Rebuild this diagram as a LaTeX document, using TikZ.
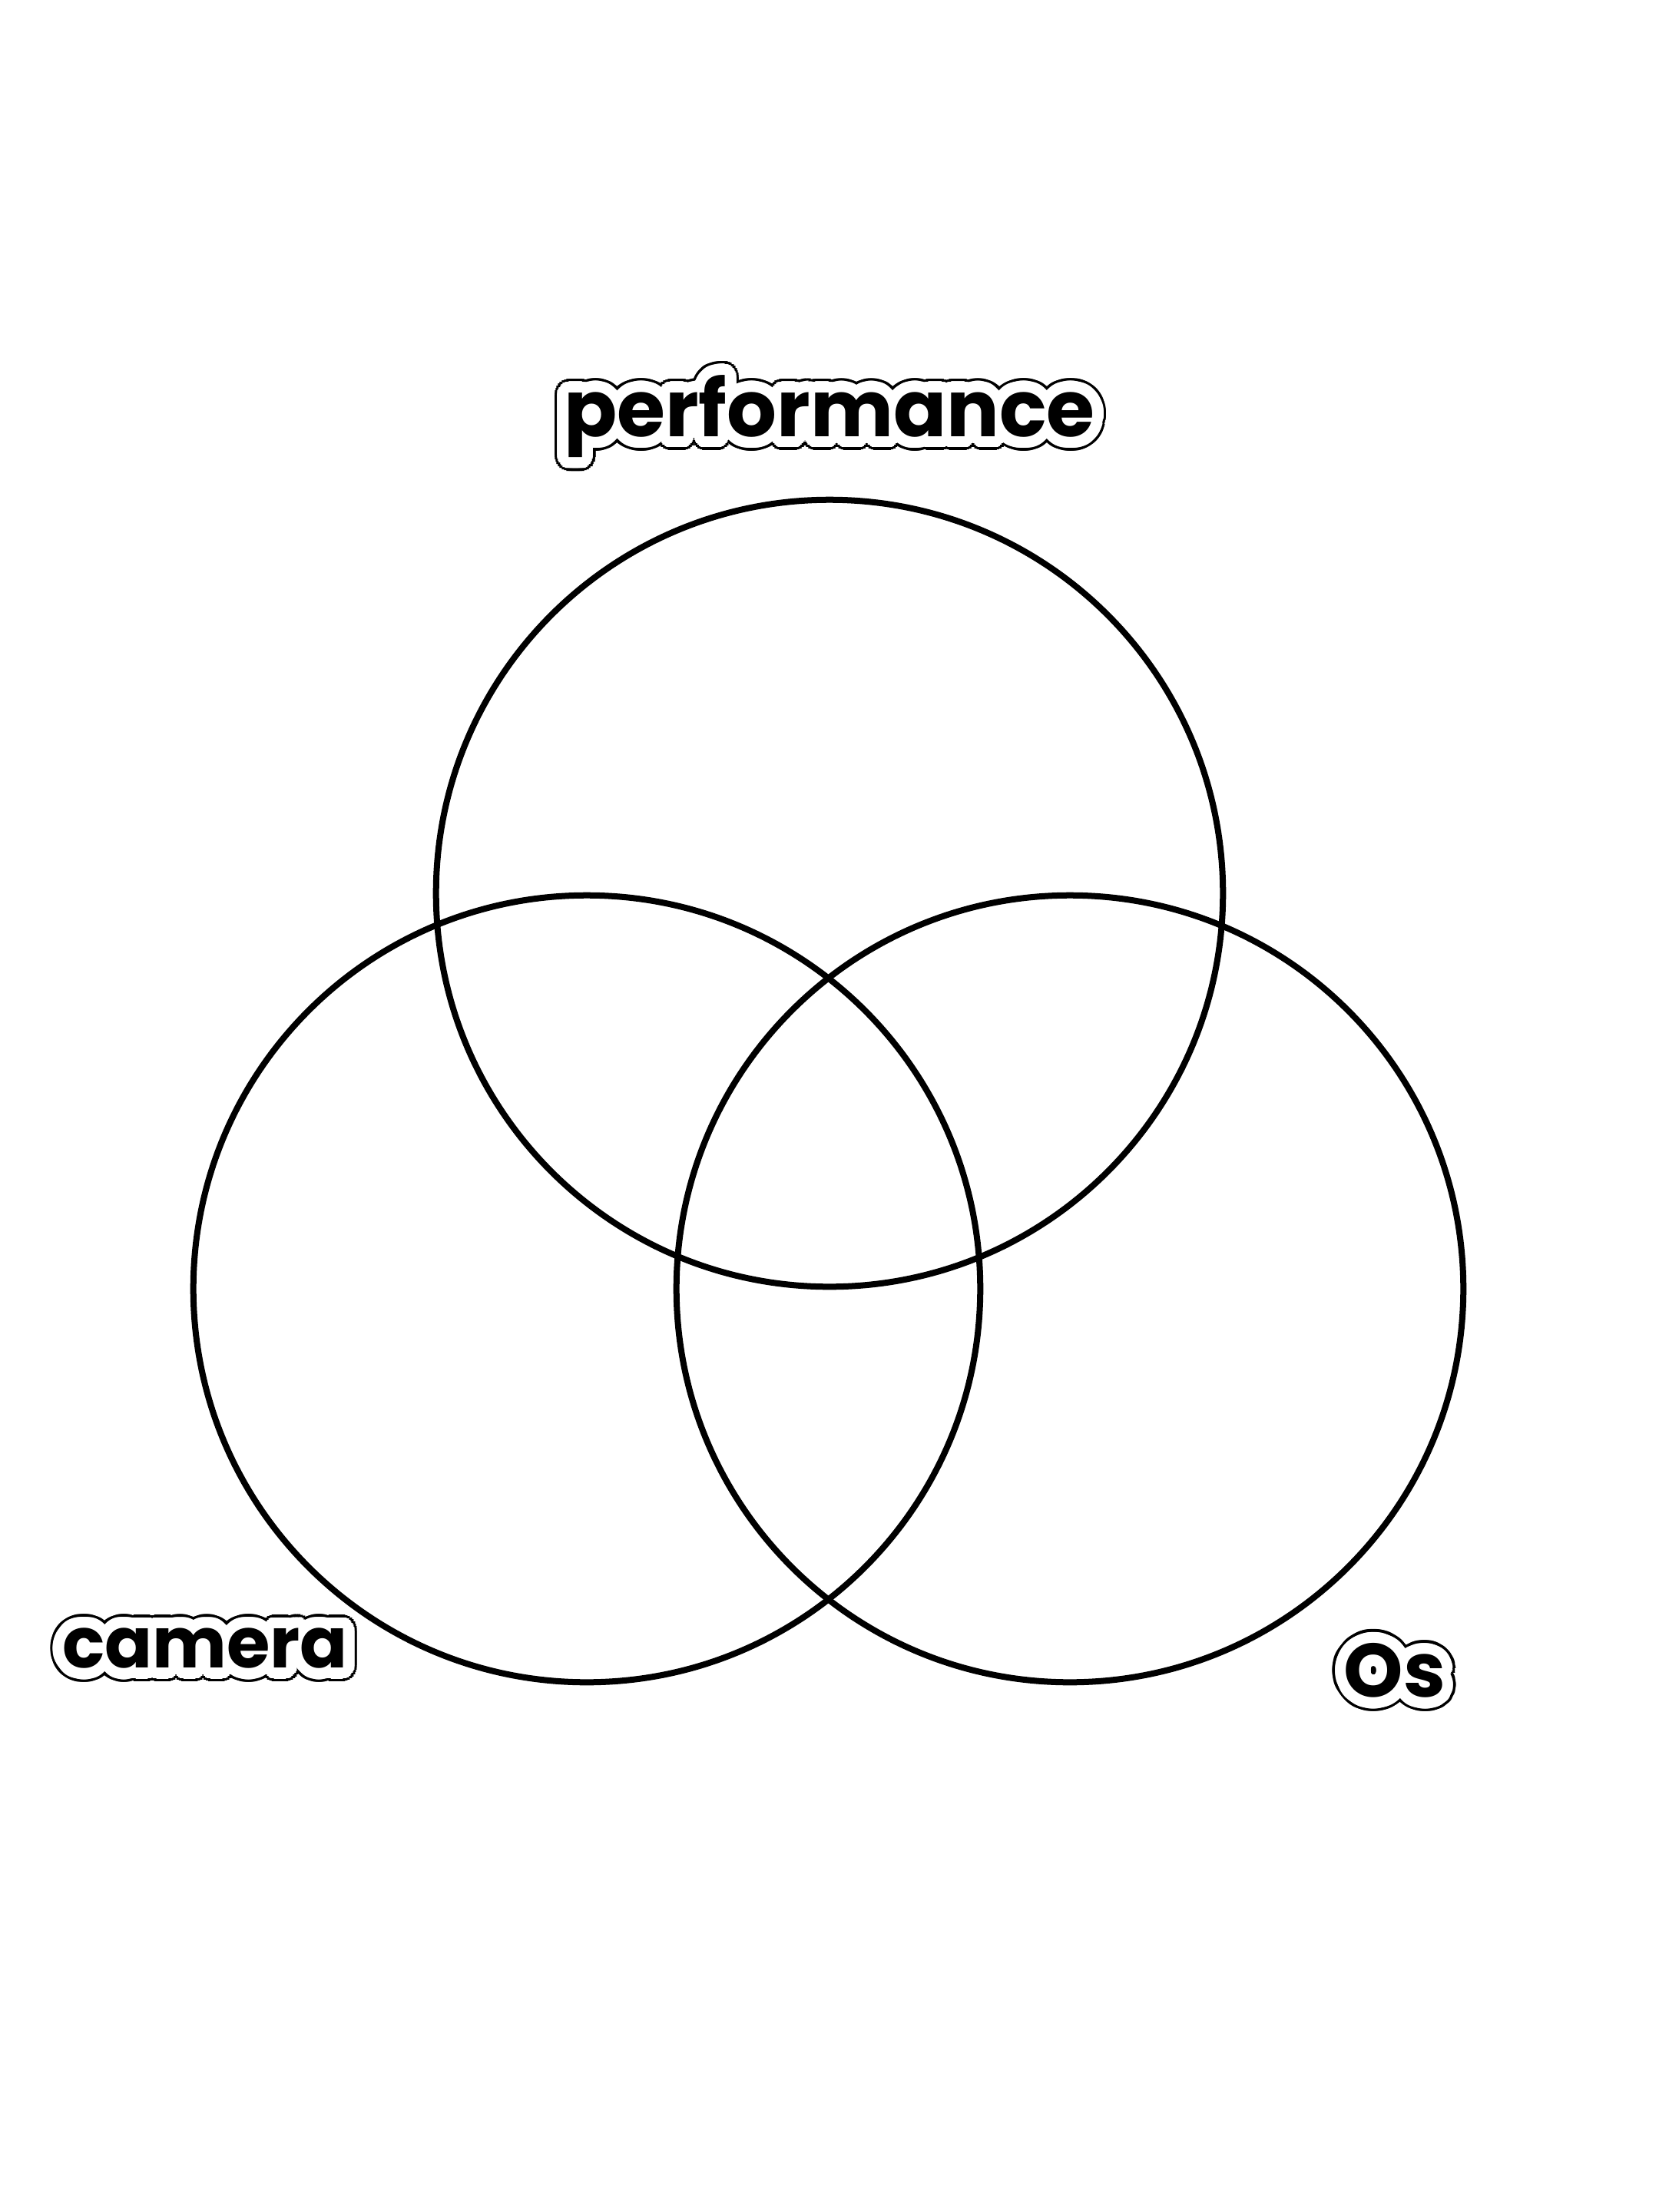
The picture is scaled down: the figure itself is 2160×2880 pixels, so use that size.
\documentclass[tikz,border=0pt]{standalone}
\usepackage{fontspec}
\newfontfamily\lblfont{Poppins}
\usetikzlibrary{calc}
\tikzset{
  ring/.style={draw=black, line width=0.08cm},
  lbltext/.style={font=\lblfont\bfseries, inner sep=0pt, outer sep=0pt},
}
% #1 name, #2 position, #3 font size (pt), #4 text
\newcommand\outlinedlabel[4]{%
  \foreach \a in {0,10,...,350}{%
    \node[lbltext, text=black, name=#1k\a] at ($(#2)+(\a:0.18cm)$) {\fontsize{#3}{#3}\selectfont #4};
  }%
  \foreach \r/\t in {0.145/a,0.07/b}{%
    \foreach \a in {0,10,...,350}{%
      \node[lbltext, text=white, name=#1w\t\a] at ($(#2)+(\a:\r cm)$) {\fontsize{#3}{#3}\selectfont #4};
    }%
  }%
  \node[lbltext, text=black, name=#1] at (#2) {\fontsize{#3}{#3}\selectfont #4};
}
\begin{document}
\begin{tikzpicture}[x=0.01cm, y=-0.01cm]
  \useasboundingbox[fill=white] (0,0) rectangle (2160,2880);
  \coordinate (cperf) at (1080,1163);
  \coordinate (ccam) at (764,1678);
  \coordinate (cos) at (1393,1678);
  \draw[ring] (cperf) circle[radius=5.12cm];
  \draw[ring] (ccam) circle[radius=5.12cm];
  \draw[ring] (cos) circle[radius=5.12cm];
  \coordinate (pperf) at (1080,542);
  \coordinate (pcam) at (267,2146);
  \coordinate (pos) at (1816,2175);
  \outlinedlabel{lperf}{pperf}{29}{performance}
  \outlinedlabel{lcam}{pcam}{26}{camera}
  \outlinedlabel{los}{pos}{28}{Os}
\end{tikzpicture}
\end{document}
